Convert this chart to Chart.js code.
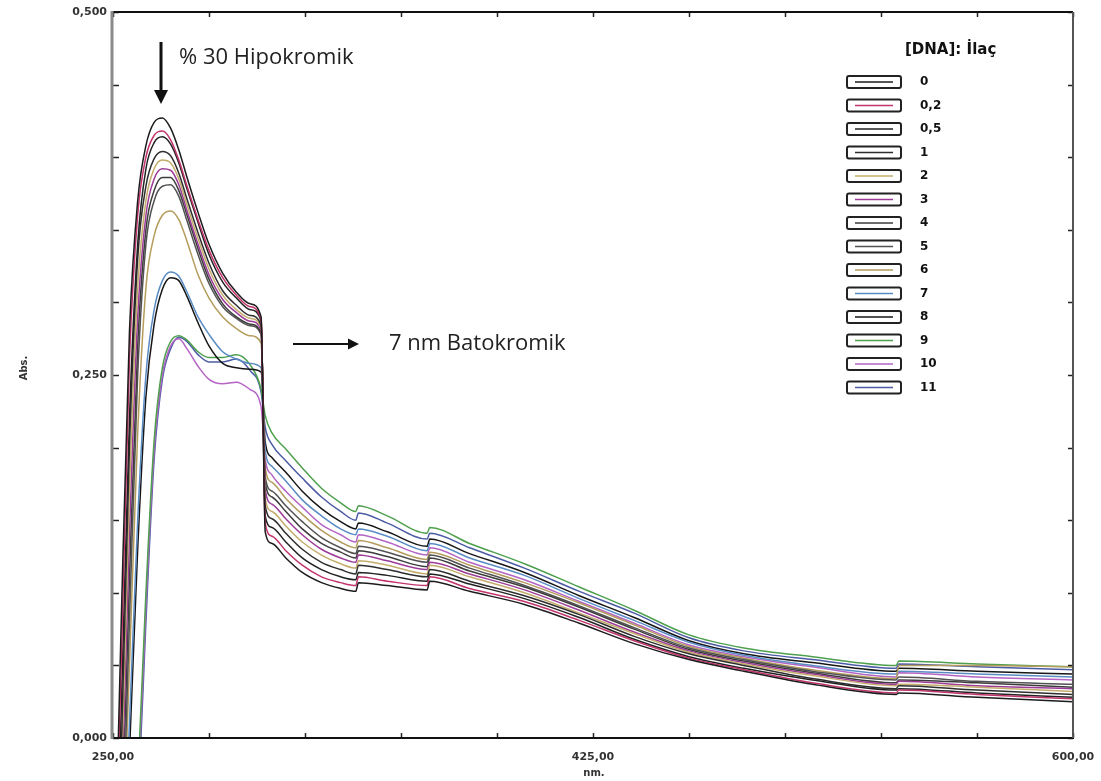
<!DOCTYPE html>
<html>
<head>
<meta charset="utf-8">
<title>DNA : İlaç UV spektrumu</title>
<script src="https://cdn.jsdelivr.net/npm/chart.js"></script>
<style>
  html, body { margin: 0; padding: 0; background: #fff; }
  #wrap { width: 1101px; height: 781px; position: relative; }
</style>
</head>
<body>
<div id="wrap"><canvas id="spectrum"></canvas></div>
<script>
// wavelength grid, nm (the close pairs carry the instrument's lamp/filter steps)
const wavelengths = [250, 253, 256, 259, 262, 265, 268, 271, 274, 277, 281, 285, 290, 295, 300, 304,
  305.5, 308, 313, 319, 326, 333, 338.5, 339.5, 350, 364.5, 365.5, 380, 400, 420, 440, 460, 480, 505, 535.5, 536.5, 565, 600];

// [DNA]:İlaç ratios
const ratios = ['0', '0,2', '0,5', '1', '2', '3', '4', '5', '6', '7', '8', '9', '10', '11'];

// absorbance per ratio
const abs0 = [-0.15, 0.08, 0.28, 0.37, 0.408, 0.424, 0.427, 0.420, 0.405, 0.386, 0.362, 0.340, 0.320, 0.307, 0.299, 0.290,
  0.142, 0.134, 0.124, 0.114, 0.107, 0.103, 0.101, 0.107, 0.105, 0.102, 0.108, 0.101, 0.092, 0.079, 0.065, 0.054, 0.046, 0.037, 0.030, 0.031, 0.028, 0.025];
const abs02 = [-0.15, 0.05, 0.26, 0.36, 0.400, 0.415, 0.418, 0.412, 0.398, 0.380, 0.357, 0.336, 0.317, 0.305, 0.297, 0.288,
  0.148, 0.139, 0.129, 0.119, 0.111, 0.107, 0.105, 0.111, 0.108, 0.105, 0.111, 0.103, 0.094, 0.081, 0.067, 0.055, 0.047, 0.038, 0.031, 0.033, 0.030, 0.027];
const abs05 = [-0.15, 0.02, 0.22, 0.34, 0.392, 0.410, 0.414, 0.409, 0.396, 0.378, 0.355, 0.333, 0.314, 0.303, 0.295, 0.287,
  0.153, 0.145, 0.135, 0.124, 0.116, 0.111, 0.109, 0.114, 0.112, 0.108, 0.113, 0.106, 0.096, 0.083, 0.068, 0.056, 0.048, 0.040, 0.033, 0.034, 0.031, 0.028];
const abs1 = [-0.15, -0.01, 0.20, 0.33, 0.380, 0.399, 0.404, 0.401, 0.389, 0.371, 0.348, 0.327, 0.308, 0.298, 0.291, 0.284,
  0.160, 0.151, 0.141, 0.130, 0.121, 0.116, 0.113, 0.119, 0.116, 0.111, 0.116, 0.108, 0.098, 0.085, 0.070, 0.058, 0.050, 0.041, 0.034, 0.036, 0.033, 0.030];
const abs2 = [-0.15, -0.03, 0.17, 0.31, 0.370, 0.392, 0.398, 0.396, 0.385, 0.367, 0.344, 0.323, 0.305, 0.295, 0.289, 0.283,
  0.165, 0.156, 0.146, 0.135, 0.126, 0.120, 0.117, 0.122, 0.119, 0.113, 0.119, 0.111, 0.100, 0.086, 0.072, 0.059, 0.051, 0.043, 0.036, 0.037, 0.035, 0.032];
const abs3 = [-0.15, -0.05, 0.14, 0.29, 0.360, 0.385, 0.392, 0.391, 0.381, 0.363, 0.340, 0.319, 0.302, 0.293, 0.287, 0.281,
  0.171, 0.161, 0.151, 0.140, 0.130, 0.124, 0.121, 0.126, 0.122, 0.116, 0.121, 0.113, 0.102, 0.088, 0.073, 0.060, 0.052, 0.044, 0.037, 0.039, 0.036, 0.034];
const abs4 = [-0.15, -0.07, 0.11, 0.27, 0.350, 0.377, 0.386, 0.386, 0.377, 0.360, 0.337, 0.316, 0.299, 0.290, 0.285, 0.279,
  0.176, 0.166, 0.156, 0.144, 0.134, 0.128, 0.124, 0.129, 0.125, 0.118, 0.124, 0.115, 0.104, 0.090, 0.075, 0.061, 0.053, 0.045, 0.038, 0.040, 0.038, 0.035];
const abs5 = [-0.15, -0.09, 0.08, 0.25, 0.340, 0.370, 0.380, 0.381, 0.373, 0.356, 0.333, 0.313, 0.297, 0.289, 0.284, 0.278,
  0.180, 0.170, 0.160, 0.149, 0.138, 0.131, 0.127, 0.132, 0.128, 0.121, 0.126, 0.117, 0.105, 0.091, 0.076, 0.062, 0.054, 0.046, 0.040, 0.042, 0.039, 0.037];
const abs6 = [-0.15, -0.10, 0.05, 0.21, 0.310, 0.346, 0.360, 0.363, 0.357, 0.342, 0.319, 0.303, 0.290, 0.282, 0.277, 0.272,
  0.186, 0.176, 0.165, 0.154, 0.143, 0.135, 0.131, 0.136, 0.131, 0.123, 0.128, 0.119, 0.107, 0.093, 0.078, 0.063, 0.055, 0.047, 0.041, 0.050, 0.050, 0.049];
const abs7 = [-0.15, -0.12, 0.01, 0.15, 0.250, 0.295, 0.315, 0.321, 0.318, 0.307, 0.290, 0.278, 0.266, 0.261, 0.258, 0.255,
  0.198, 0.187, 0.177, 0.164, 0.153, 0.144, 0.140, 0.144, 0.139, 0.129, 0.134, 0.124, 0.112, 0.096, 0.081, 0.066, 0.057, 0.050, 0.044, 0.046, 0.044, 0.042];
const abs8 = [-0.15, -0.13, -0.01, 0.13, 0.235, 0.285, 0.309, 0.317, 0.315, 0.304, 0.286, 0.270, 0.258, 0.255, 0.254, 0.252,
  0.204, 0.193, 0.183, 0.170, 0.158, 0.149, 0.144, 0.148, 0.142, 0.132, 0.137, 0.127, 0.114, 0.098, 0.083, 0.067, 0.058, 0.052, 0.046, 0.048, 0.046, 0.044];
const abs9 = [-0.15, -0.14, -0.12, -0.03, 0.10, 0.205, 0.255, 0.273, 0.277, 0.274, 0.266, 0.262, 0.262, 0.264, 0.257, 0.240,
  0.222, 0.210, 0.199, 0.186, 0.172, 0.162, 0.156, 0.160, 0.153, 0.141, 0.145, 0.134, 0.120, 0.104, 0.088, 0.071, 0.062, 0.056, 0.050, 0.053, 0.051, 0.049];
const abs10 = [-0.15, -0.14, -0.12, -0.04, 0.09, 0.198, 0.250, 0.270, 0.275, 0.268, 0.256, 0.247, 0.244, 0.245, 0.240, 0.228,
  0.192, 0.181, 0.170, 0.159, 0.147, 0.140, 0.135, 0.140, 0.135, 0.126, 0.131, 0.121, 0.109, 0.094, 0.079, 0.064, 0.056, 0.049, 0.042, 0.045, 0.042, 0.040];
const abs11 = [-0.15, -0.14, -0.13, -0.05, 0.08, 0.192, 0.247, 0.268, 0.276, 0.273, 0.264, 0.259, 0.259, 0.261, 0.253, 0.238,
  0.214, 0.202, 0.191, 0.179, 0.166, 0.156, 0.150, 0.155, 0.148, 0.137, 0.141, 0.131, 0.117, 0.101, 0.086, 0.069, 0.060, 0.054, 0.048, 0.051, 0.049, 0.047];

const allSeries = [abs0, abs02, abs05, abs1, abs2, abs3, abs4, abs5, abs6, abs7, abs8, abs9, abs10, abs11];

const lineColors = ['#1c1c1c', '#c2346c', '#222222', '#2e2e2e', '#c4ac6c', '#9c3c98', '#3c3c3c',
  '#525252', '#b49c5c', '#5a8cc4', '#161616', '#4ea04e', '#b464c4', '#4c5ca4'];

// only these ticks carry a label (decimal comma)
const yLabels = [0, 0.25, 0.5];
const xLabels = [250, 425, 600];

function line(ctx, x1, y1, x2, y2) {
  ctx.beginPath(); ctx.moveTo(x1, y1); ctx.lineTo(x2, y2); ctx.stroke();
}

// box frame with inward tick marks
const framePlugin = {
  id: 'frame',
  afterDatasetsDraw(chart) {
    const { ctx, chartArea: a, scales: { x, y } } = chart;
    ctx.save();
    ctx.strokeStyle = '#222';
    ctx.lineWidth = 1.5;
    x.ticks.forEach(t => {
      const px = Math.round(x.getPixelForValue(t.value)) + 0.5;
      line(ctx, px, a.bottom, px, a.bottom - 5);
      line(ctx, px, a.top, px, a.top + 5);
    });
    y.ticks.forEach(t => {
      const py = Math.round(y.getPixelForValue(t.value)) + 0.5;
      line(ctx, a.left, py, a.left + 6, py);
      line(ctx, a.right, py, a.right - 5, py);
    });
    ctx.strokeStyle = '#111';
    ctx.lineWidth = 2;
    line(ctx, a.left, a.top, a.right, a.top);
    line(ctx, a.left, a.bottom, a.right + 1, a.bottom);
    ctx.strokeStyle = '#555';
    line(ctx, a.right, a.top, a.right, a.bottom);
    ctx.strokeStyle = '#8a8a8a';
    ctx.lineWidth = 3;
    line(ctx, a.left - 1, a.top - 1, a.left - 1, a.bottom + 1);
    ctx.restore();
  }
};

function arrow(ctx, x1, y1, x2, y2, w, head) {
  const ang = Math.atan2(y2 - y1, x2 - x1);
  ctx.lineWidth = w;
  line(ctx, x1, y1, x2 - Math.cos(ang) * head * 0.8, y2 - Math.sin(ang) * head * 0.8);
  ctx.beginPath();
  ctx.moveTo(x2, y2);
  ctx.lineTo(x2 - Math.cos(ang) * head - Math.sin(ang) * head * 0.5, y2 - Math.sin(ang) * head + Math.cos(ang) * head * 0.5);
  ctx.lineTo(x2 - Math.cos(ang) * head + Math.sin(ang) * head * 0.5, y2 - Math.sin(ang) * head - Math.cos(ang) * head * 0.5);
  ctx.closePath();
  ctx.fill();
}

// legend boxes, axis titles and the two shift annotations
const notesPlugin = {
  id: 'notes',
  afterDraw(chart) {
    const ctx = chart.ctx;
    ctx.save();

    // legend
    ctx.fillStyle = '#111';
    ctx.font = 'bold 15px "DejaVu Sans"';
    ctx.textBaseline = 'middle';
    ctx.textAlign = 'left';
    ctx.fillText('[DNA]: İlaç', 905, 50);
    ctx.font = 'bold 12px "DejaVu Sans"';
    chart.data.datasets.forEach((ds, i) => {
      const cy = 82 + i * 23.5;
      ctx.fillStyle = '#fff';
      ctx.strokeStyle = '#222';
      ctx.lineWidth = 2;
      ctx.beginPath();
      ctx.roundRect(847, cy - 6, 54, 12, 2);
      ctx.fill();
      ctx.stroke();
      ctx.strokeStyle = ds.borderColor;
      ctx.lineWidth = 1.5;
      line(ctx, 855, cy, 893, cy);
      ctx.fillStyle = '#111';
      ctx.fillText(ds.label, 920, cy);
    });

    // axis titles
    ctx.fillStyle = '#333';
    ctx.font = 'bold 10px "DejaVu Sans"';
    ctx.textAlign = 'center';
    ctx.fillText('nm.', 594, 773);
    ctx.save();
    ctx.translate(24, 368);
    ctx.rotate(-Math.PI / 2);
    ctx.fillText('Abs.', 0, 0);
    ctx.restore();

    // annotations
    ctx.fillStyle = '#111';
    ctx.strokeStyle = '#111';
    arrow(ctx, 161, 42, 161, 104, 3, 14);
    arrow(ctx, 293, 344, 359, 344, 2, 11);
    ctx.font = '22px "Open Sans"';
    ctx.textAlign = 'left';
    ctx.fillStyle = '#222';
    ctx.fillText('% 30 Hipokromik', 179, 58);
    ctx.fillText('7 nm Batokromik', 389, 344);
    ctx.restore();
  }
};

const datasets = allSeries.map((vals, i) => ({
  label: ratios[i],
  data: wavelengths.map((w, k) => ({ x: w, y: vals[k] })),
  borderColor: lineColors[i],
  borderWidth: 1.5,
  pointRadius: 0,
  fill: false,
  cubicInterpolationMode: 'monotone'
}));

new Chart(document.getElementById('spectrum'), {
  type: 'line',
  data: { datasets: datasets },
  options: {
    responsive: true,
    maintainAspectRatio: false,
    devicePixelRatio: 1,
    animation: false,
    layout: { padding: { top: 12, right: 28, left: 0, bottom: 0 } },
    plugins: { legend: { display: false }, tooltip: { enabled: false } },
    scales: {
      x: {
        type: 'linear',
        min: 250,
        max: 600,
        grid: { display: false, drawTicks: false },
        border: { display: false },
        afterFit: s => { s.height = 43; s.paddingLeft = 0; s.paddingRight = 0; },
        ticks: {
          stepSize: 35,
          autoSkip: false,
          maxRotation: 0,
          padding: 13,
          color: '#333',
          font: { family: 'DejaVu Sans', size: 11, weight: 'bold' },
          callback: v => xLabels.some(l => Math.abs(l - v) < 1e-6) ? v.toFixed(2).replace('.', ',') : ''
        }
      },
      y: {
        min: 0,
        max: 0.5,
        grid: { display: false, drawTicks: false },
        border: { display: false },
        afterFit: s => { s.width = 113; s.paddingTop = 0; s.paddingBottom = 0; },
        ticks: {
          stepSize: 0.05,
          autoSkip: false,
          padding: 6,
          color: '#333',
          font: { family: 'DejaVu Sans', size: 11, weight: 'bold' },
          callback: v => yLabels.some(l => Math.abs(l - v) < 1e-6) ? v.toFixed(3).replace('.', ',') : ''
        }
      }
    }
  },
  plugins: [framePlugin, notesPlugin]
});
</script>
</body>
</html>
